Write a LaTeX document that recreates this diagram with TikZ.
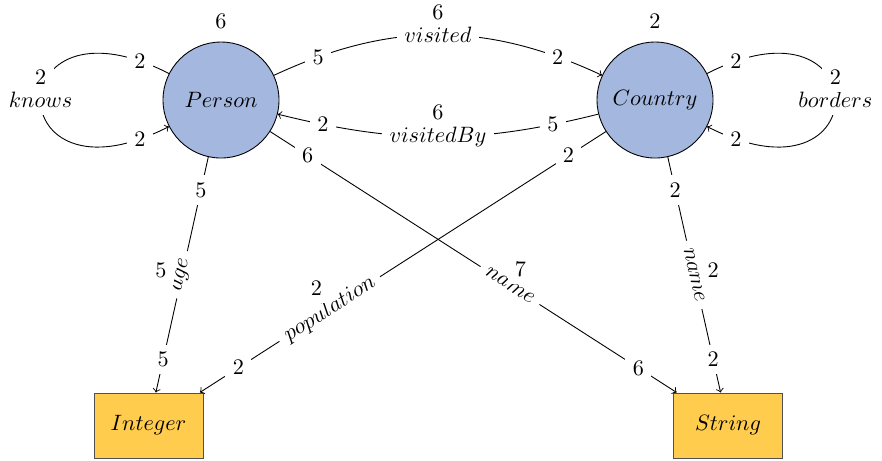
\documentclass[tikz,border=0pt]{standalone}
\usetikzlibrary{calc}
\definecolor{entblue}{RGB}{164,183,222}
\definecolor{valyellow}{RGB}{255,204,77}
\definecolor{valedge}{RGB}{80,80,80}
\begin{document}
\begin{tikzpicture}[x=0.45pt,y=0.45pt,
  entity/.style={circle,draw=black,fill=entblue,minimum size=52.2pt,inner sep=0pt},
  valtype/.style={rectangle,draw=valedge,fill=valyellow,minimum width=49pt,minimum height=29.3pt,inner sep=0pt},
  card/.style={fill=white},
  rel/.style={fill=white},
  conn/.style={->}]
\useasboundingbox (0,0) rectangle (882,-460);

% classes and value types
\node[entity,label={[name=Pn,label distance=2.5pt]above:$6$}] (P) at (221,-100) {$Person$};
\node[entity,label={[name=Cn,label distance=2.5pt]above:$2$}] (C) at (655,-100) {$Country$};
\node[valtype] (I) at (148.5,-425.5) {$Integer$};
\node[valtype] (S) at (728,-425.5) {$String$};

% self loops
\draw[conn] (P.153) .. controls +(153:192) and +(207:192) .. (P.207)
  node[pos=0.06,card] (kA) {$2$}
  node[pos=0.5,rel] (kR) {$knows$}
  node[pos=0.94,card] (kB) {$2$};
\node[card] (kN) at ($(kR.north)!-3.1pt!(kR.center)$) {$2$};

\draw[conn] (C.27) .. controls +(27:192) and +(-27:192) .. (C.-27)
  node[pos=0.06,card] (bA) {$2$}
  node[pos=0.5,rel] (bR) {$borders$}
  node[pos=0.94,card] (bB) {$2$};
\node[card] (bN) at ($(bR.north)!-3.1pt!(bR.center)$) {$2$};

% relations between the two classes
\draw[conn] (P) to[bend left=25]
  node[pos=0.13,card] (vA) {$5$}
  node[pos=0.5,rel] (vR) {$visited$}
  node[pos=0.87,card] (vB) {$2$} (C);
\node[card] (vN) at ($(vR.north)!-3.1pt!(vR.center)$) {$6$};

\draw[conn] (C) to[bend left=14]
  node[pos=0.13,card] (wA) {$5$}
  node[pos=0.5,rel] (wR) {$visitedBy$}
  node[pos=0.87,card] (wB) {$2$} (P);
\node[card] (wN) at ($(wR.north)!-3.1pt!(wR.center)$) {$6$};

% attributes
\draw[conn] (P) --
  node[pos=0.14,card] (aA) {$5$}
  node[pos=0.5,rel,sloped] (aR) {$age$}
  node[pos=0.86,card] (aB) {$5$} (I);
\node[card] (aN) at ($(aR.north)!-3.1pt!(aR.center)$) {$5$};

\draw[conn] (P) --
  node[pos=0.092,card] (nA) {$6$}
  node[pos=0.59,rel,sloped] (nR) {$name$}
  node[pos=0.906,card] (nB) {$6$} (S);
\node[card] (nN) at ($(nR.north)!-3.1pt!(nR.center)$) {$7$};

\draw[conn] (C) --
  node[pos=0.092,card] (pA) {$2$}
  node[pos=0.68,rel,sloped] (pR) {$population$}
  node[pos=0.905,card] (pB) {$2$} (I);
\node[card] (pN) at ($(pR.north)!-3.1pt!(pR.center)$) {$2$};

\draw[conn] (C) --
  node[pos=0.14,card] (mA) {$2$}
  node[pos=0.5,rel,sloped] (mR) {$name$}
  node[pos=0.86,card] (mB) {$2$} (S);
\node[card] (mN) at ($(mR.north)!-3.1pt!(mR.center)$) {$2$};
\end{tikzpicture}
\end{document}
